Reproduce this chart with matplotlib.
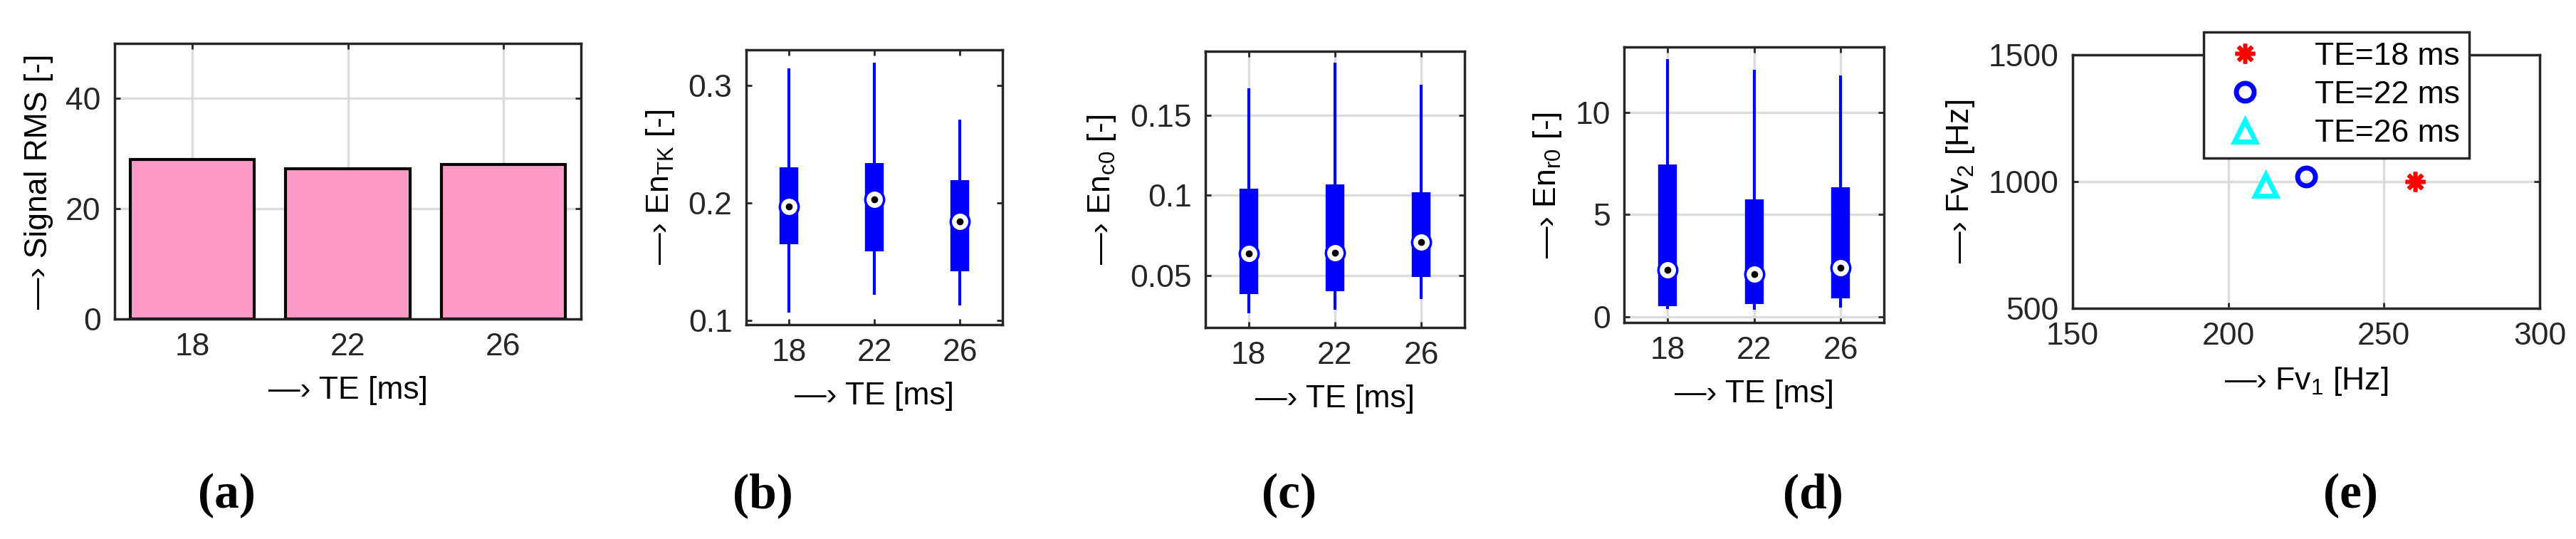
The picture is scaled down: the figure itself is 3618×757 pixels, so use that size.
import numpy as np
import matplotlib
matplotlib.use("Agg")
import matplotlib.pyplot as plt

plt.rcParams['font.family'] = ['Liberation Sans', 'DejaVu Sans']
plt.rcParams['mathtext.fontset'] = 'custom'
plt.rcParams['mathtext.rm'] = 'Liberation Sans'
plt.rcParams['mathtext.it'] = 'Liberation Sans'

W, H = 3618, 757
te = [18, 22, 26]
te_labels = ['18', '22', '26']

# (a) signal RMS
rms = [28.9, 27.2, 28.0]

# box stats: whisker low, q1, median, q3, whisker high
en_tk = [[0.107, 0.165, 0.197, 0.230, 0.314],
         [0.122, 0.159, 0.203, 0.234, 0.319],
         [0.113, 0.142, 0.184, 0.219, 0.271]]
en_c0 = [[0.0263, 0.0386, 0.0638, 0.104, 0.167],
         [0.0284, 0.0403, 0.0644, 0.107, 0.183],
         [0.0351, 0.0491, 0.0707, 0.102, 0.169]]
en_r0 = [[0.40, 0.52, 2.29, 7.45, 12.59],
         [0.35, 0.64, 2.08, 5.73, 12.07],
         [0.47, 0.91, 2.40, 6.34, 11.80]]

# (e) formants
fv1 = [260, 225, 212]
fv2 = [1000, 1020, 985]
leg_labels = ['TE=18 ms', 'TE=22 ms', 'TE=26 ms']

FS = 32
ARROW = '\u2014\u203a '


def add_ax(l, r, t, b):
    return fig.add_axes([l / W, 1 - b / H, (r - l) / W, (b - t) / H])


def style(ax, grid=True):
    for s in ax.spines.values():
        s.set_linewidth(2.5)
        s.set_color('#262626')
    ax.tick_params(direction='in', length=6, width=2, labelsize=FS,
                   top=True, right=True, colors='#262626', pad=14)
    if grid:
        ax.grid(True, color='#dcdcdc', linewidth=2.5)
        ax.set_axisbelow(True)


fig = plt.figure(figsize=(W / 100, H / 100), dpi=100)

# (a)
ax = add_ax(161, 816, 61, 448)
x = np.arange(1, 4)
ax.bar(x, rms, width=0.8, color='#ff99c8', edgecolor='black', linewidth=3)
ax.set_xlim(0.5, 3.5)
ax.set_ylim(0, 50)
ax.set_yticks([0, 20, 40])
ax.set_xticks(x, te_labels)
style(ax)
ax.set_ylabel(ARROW + 'Signal RMS [-]', fontsize=FS, labelpad=12)
ax.set_xlabel(ARROW + 'TE [ms]', fontsize=FS, labelpad=14)


def boxes(ax, stats):
    x = np.arange(1, 4)
    s = np.array(stats)
    ax.vlines(x, s[:, 0], s[:, 4], color='#0000ff', linewidth=3, zorder=3)
    ax.vlines(x, s[:, 1], s[:, 3], color='#0000ff', linewidth=19, zorder=3)
    ax.plot(x, s[:, 2], 'o', ms=19, mfc='white', mec='#0000ff', mew=2.5, zorder=4)
    ax.plot(x, s[:, 2], 'o', ms=6, color='black', zorder=5)
    ax.set_xlim(0.5, 3.5)
    ax.set_xticks(x, te_labels)


# (b)
ax = add_ax(1048, 1408, 70, 456)
boxes(ax, en_tk)
ax.set_ylim(0.0965, 0.330)
ax.set_yticks([0.1, 0.2, 0.3])
style(ax, grid=False)
ax.set_ylabel(ARROW + r'En$_{\mathrm{TK}}$ [-]', fontsize=FS, labelpad=12)
ax.set_xlabel(ARROW + 'TE [ms]', fontsize=FS, labelpad=14)

# (c)
ax = add_ax(1693, 2057, 72, 460)
boxes(ax, en_c0)
ax.set_ylim(0.0175, 0.190)
ax.set_yticks([0.05, 0.1, 0.15], ['0.05', '0.1', '0.15'])
style(ax)
ax.set_ylabel(ARROW + r'En$_{\mathrm{c0}}$ [-]', fontsize=FS, labelpad=12)
ax.set_xlabel(ARROW + 'TE [ms]', fontsize=FS, labelpad=14)

# (d)
ax = add_ax(2281, 2646, 66, 453)
boxes(ax, en_r0)
ax.set_ylim(-0.27, 13.19)
ax.set_yticks([0, 5, 10])
style(ax)
ax.set_ylabel(ARROW + r'En$_{\mathrm{r0}}$ [-]', fontsize=FS, labelpad=12)
ax.set_xlabel(ARROW + 'TE [ms]', fontsize=FS, labelpad=14)

# (e)
ax = add_ax(2911, 3567, 77, 433)
ax.plot(fv1[0], fv2[0], marker=(8, 2, 0), ls='none', color='red', mec='red', ms=20, mew=4,
        label=leg_labels[0])
ax.plot(fv1[1], fv2[1], 'o', mfc='none', mec='#0000ff', ms=18, mew=5, label=leg_labels[1])
ax.plot(fv1[2], fv2[2], '^', mfc='none', mec='cyan', ms=22, mew=5, label=leg_labels[2])
ax.set_xlim(150, 300)
ax.set_ylim(500, 1500)
ax.set_xticks([150, 200, 250, 300])
ax.set_yticks([500, 1000, 1500])
style(ax)
ax.set_ylabel(ARROW + r'Fv$_{2}$ [Hz]', fontsize=FS, labelpad=12)
ax.set_xlabel(ARROW + r'Fv$_{1}$ [Hz]', fontsize=FS, labelpad=14)
leg = ax.legend(loc='upper left', bbox_to_anchor=((3073 - 2911) / 656, 1 + (77 - 23) / 356),
                fontsize=FS, frameon=True, fancybox=False, edgecolor='#262626',
                borderpad=0.3, labelspacing=0.3, handletextpad=1.2)
leg.get_frame().set_linewidth(2.5)
leg.get_frame().set_alpha(1)

# panel letters
for lbl, xc in zip(['(a)', '(b)', '(c)', '(d)', '(e)'], [318, 1071, 1810, 2546, 3301]):
    fig.text(xc / W, 1 - 696 / H, lbl, ha='center', va='center', fontsize=50,
             fontweight='bold', family=['Liberation Serif', 'DejaVu Serif'])

fig.savefig('out.png', dpi=100)
